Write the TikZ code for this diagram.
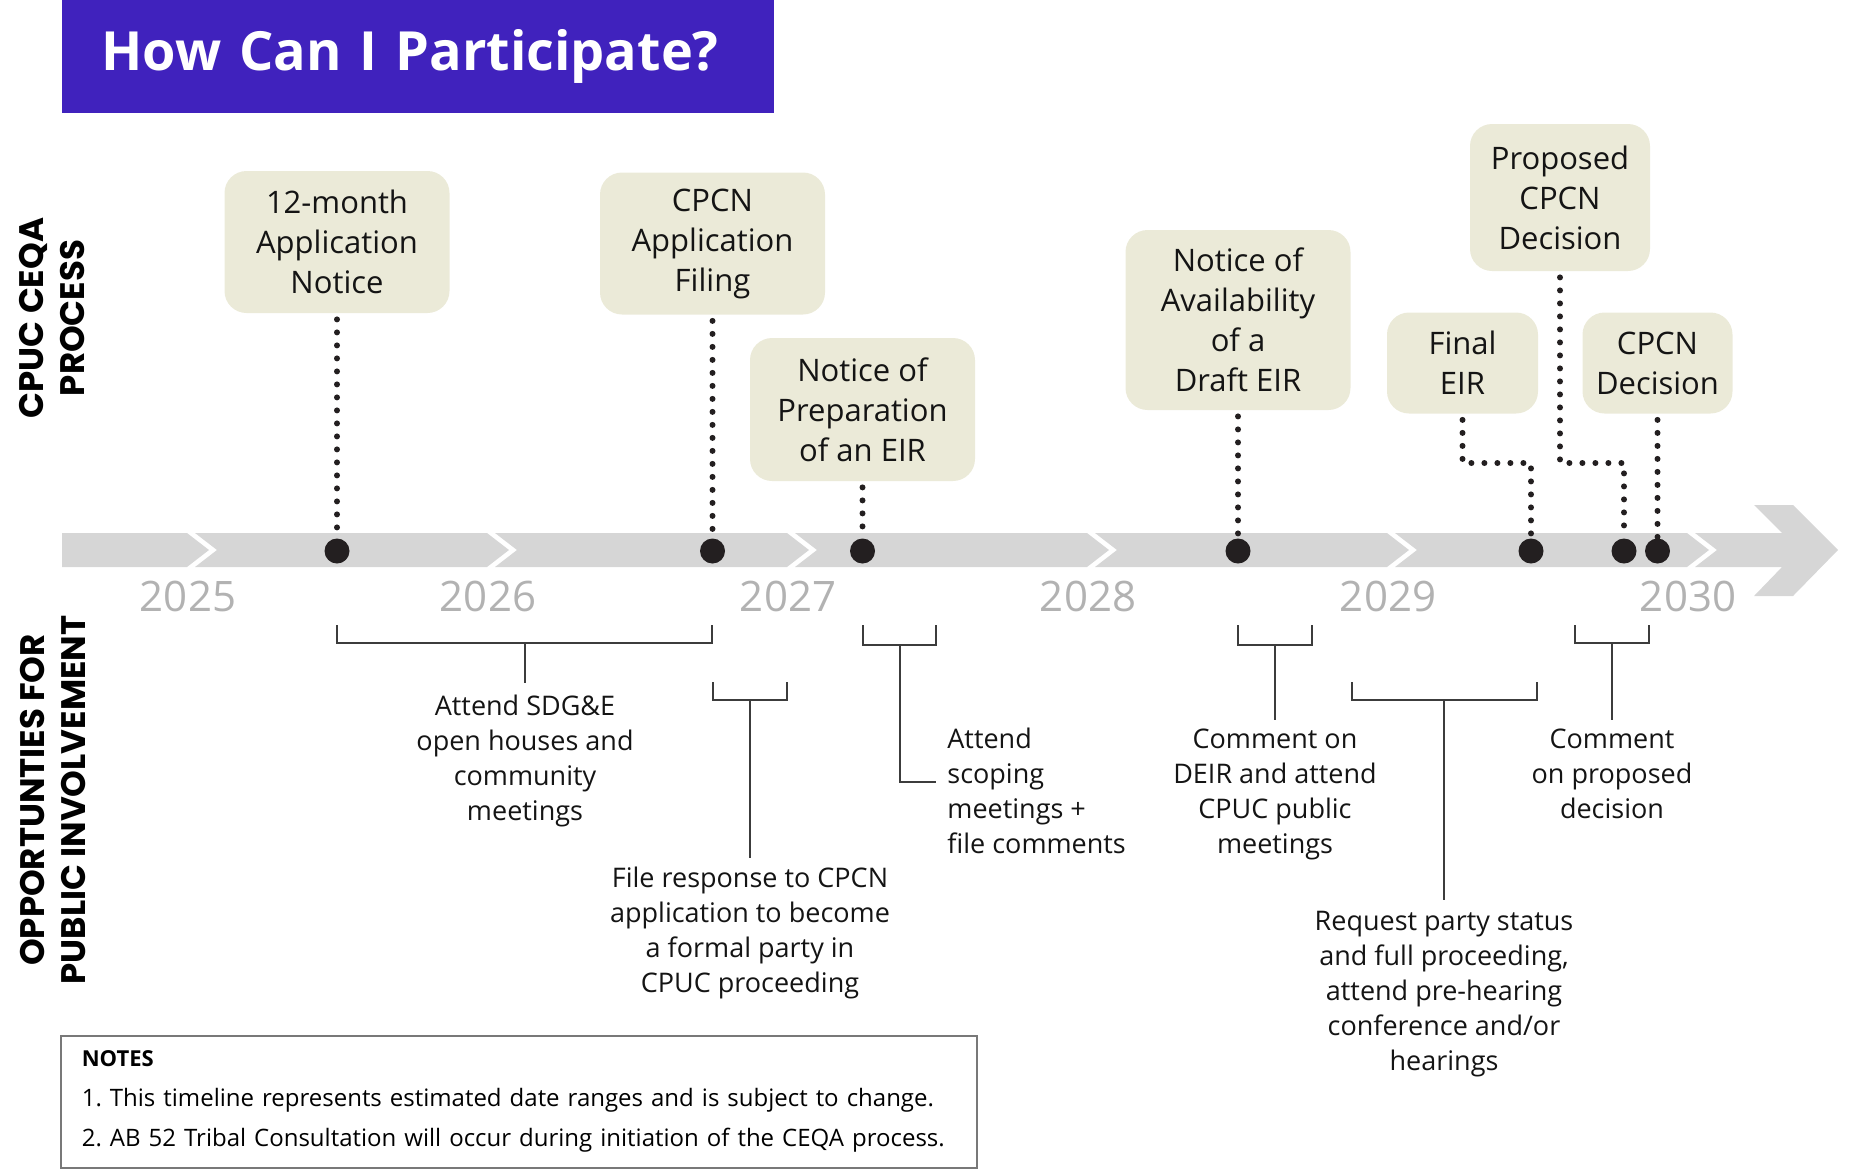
\documentclass[tikz,border=0pt]{standalone}
\usepackage{fontspec}
\setmainfont{Open Sans}
\newfontfamily\sidefont{Poppins}
\usepackage{tikz}
\frenchspacing

\definecolor{titleblue}{RGB}{64,34,189}
\definecolor{boxbeige}{RGB}{235,234,216}
\definecolor{bargray}{RGB}{214,214,214}
\definecolor{yeargray}{RGB}{178,178,178}
\definecolor{brkgray}{RGB}{60,60,60}
\definecolor{dotblack}{RGB}{35,31,32}
\definecolor{notegray}{RGB}{120,120,120}
\definecolor{textblack}{RGB}{20,20,20}

\begin{document}
\begin{tikzpicture}[x=0.5pt,y=-0.5pt,
    evbox/.style={fill=boxbeige, rounded corners=11pt, align=center, inner sep=0pt,
      text=textblack, font=\fontsize{15.5}{20}\selectfont},
    evdot/.style={circle, fill=dotblack, minimum size=12.5pt, inner sep=0pt},
    dotline/.style={draw=dotblack, line width=3pt, line cap=round, dash pattern=on 0pt off 6.5pt},
    brk/.style={draw=brkgray, line width=1.1pt},
    optext/.style={align=center, inner sep=0pt, anchor=north, text=textblack,
      font=\fontsize{13.5}{17.5}\selectfont},
    yearlbl/.style={text=yeargray, font=\fontsize{21}{21}\selectfont},
    sidelbl/.style={rotate=90, align=center, text=black,
      font=\sidefont\bfseries\fontsize{17}{20.5}\selectfont}]
    \useasboundingbox (0,0) rectangle (1875,1174);

    % title
    \node[fill=titleblue, anchor=north west, minimum height=56.5pt, text width=317pt,
      inner xsep=19.5pt, inner ysep=0pt, align=left, text=white,
      font=\bfseries\fontsize{27}{30}\selectfont] (title) at (62,0) {How Can I Participate?};

    % side labels
    \node[sidelbl] (ceqa) at (52.5,318) {CPUC CEQA\\PROCESS};
    \node[sidelbl] (pub) at (53,800) {OPPORTUNTIES FOR\\PUBLIC INVOLVEMENT};

    % timeline bar
    \fill[bargray] (62,533) -- (187,533) -- (209,550) -- (187,567) -- (62,567) -- cycle;
    \foreach \i in {1,...,4}{
      \fill[bargray] ({195+300*(\i-1)},533) -- ({187+300*\i},533) -- ({209+300*\i},550)
        -- ({187+300*\i},567) -- ({195+300*(\i-1)},567) -- ({217+300*(\i-1)},550) -- cycle;
     }
    \fill[bargray] (1395,533) -- (1687,533) -- (1709,550) -- (1687,567) -- (1395,567) -- (1417,550) -- cycle;
    \fill[bargray] (1695,533) -- (1782,533) -- (1754,505) -- (1793,505) -- (1838,550)
      -- (1793,596) -- (1754,596) -- (1782,567) -- (1695,567) -- (1717,550) -- cycle;

    % years
    \foreach \yr [count=\i from 0] in {2025,2026,2027,2028,2029,2030}{
      \node[yearlbl] (y\yr) at ({188+300*\i},596) {\yr};
     }

    % process boxes
    \node[evbox, minimum width=112.5pt, minimum height=71pt] (notice) at (337,242) {12-month\\Application\\Notice};
    \node[evbox, minimum width=112.5pt, minimum height=71pt] (filing) at (712.5,243.5) {CPCN\\Application\\Filing};
    \node[evbox, minimum width=112.5pt, minimum height=71.5pt] (nop) at (862.5,409.5) {Notice of\\Preparation\\of an EIR};
    \node[evbox, minimum width=112.5pt, minimum height=90pt] (noa) at (1238,320) {Notice of\\Availability\\of a\\Draft EIR};
    \node[evbox, minimum width=75.5pt, minimum height=50.5pt] (feir) at (1462.5,363) {Final\\EIR};
    \node[evbox, minimum width=90pt, minimum height=73.5pt] (pdec) at (1560,197.5) {Proposed\\CPCN\\Decision};
    \node[evbox, minimum width=75pt, minimum height=50.5pt] (dec) at (1657.5,363) {CPCN\\Decision};

    % milestones
    \foreach \nm/\x in {d1/337,d2/712.5,d3/862.5,d4/1238,d5/1531,d6/1624,d7/1657.5}{
      \node[evdot] (\nm) at (\x,551) {};
     }
    \draw[dotline] ([yshift=-3pt]notice.south) -- (d1);
    \draw[dotline] ([yshift=-3pt]filing.south) -- (d2);
    \draw[dotline] ([yshift=-3pt]nop.south) -- (d3);
    \draw[dotline] ([yshift=-3pt]noa.south) -- (d4);
    \draw[dotline] ([yshift=-3pt]feir.south) -- (feir.south |- 0,463) -- (d5 |- 0,463) -- (d5);
    \draw[dotline] ([yshift=-3pt]pdec.south) -- (pdec.south |- 0,463) -- (d6 |- 0,463) -- (d6);
    \draw[dotline] ([yshift=-3pt]dec.south) -- (d7);

    % public involvement
    \node[optext] (houses) at (525,695) {Attend SDG\&E\\open houses and\\community\\meetings};
    \draw[brk] (337,625) |- (712,643) -- (712,625);
    \draw[brk] (525,643) -- ([yshift=6pt]houses.north);

    \node[optext] (respond) at (750,867) {File response to CPCN\\application to become\\a formal party in\\CPUC proceeding};
    \draw[brk] (713,682) |- (787,700) -- (787,682);
    \draw[brk] (750,700) -- ([yshift=4.5pt]respond.north);

    \node[optext, anchor=north west, align=left] (scoping) at (947,728) {Attend\\scoping\\meetings +\\file comments};
    \draw[brk] (863,625) |- (936,645) -- (936,625);
    \draw[brk] (900,645) |- ([xshift=-5.5pt,yshift=4.5pt]scoping.west);

    \node[optext] (deir) at (1275,729) {Comment on\\DEIR and attend\\CPUC public\\meetings};
    \draw[brk] (1238,625) |- (1312,645) -- (1312,625);
    \draw[brk] (1275,645) -- ([yshift=4.5pt]deir.north);

    \node[optext] (party) at (1444,911) {Request party status\\and full proceeding,\\attend pre-hearing\\conference and/or\\hearings};
    \draw[brk] (1352,682) |- (1537,700) -- (1537,682);
    \draw[brk] (1444,700) -- ([yshift=5.5pt]party.north);

    \node[optext] (propdec) at (1612,729) {Comment\\on proposed\\decision};
    \draw[brk] (1575,625) |- (1649,643) -- (1649,625);
    \draw[brk] (1612,643) -- ([yshift=4.5pt]propdec.north);

    % notes
    \node[draw=notegray, line width=0.8pt, anchor=north west, minimum width=458pt, minimum height=66pt,
      text width=437pt, inner xsep=10.5pt, inner ysep=0pt, align=left,
      font=\fontsize{12}{20}\selectfont] (notes) at (60,1035)
      {{\bfseries\fontsize{11}{20}\selectfont NOTES}\\1. This timeline represents estimated date ranges and is subject to change.\\2. AB 52 Tribal Consultation will occur during initiation of the CEQA process.};
  \end{tikzpicture}
\end{document}
